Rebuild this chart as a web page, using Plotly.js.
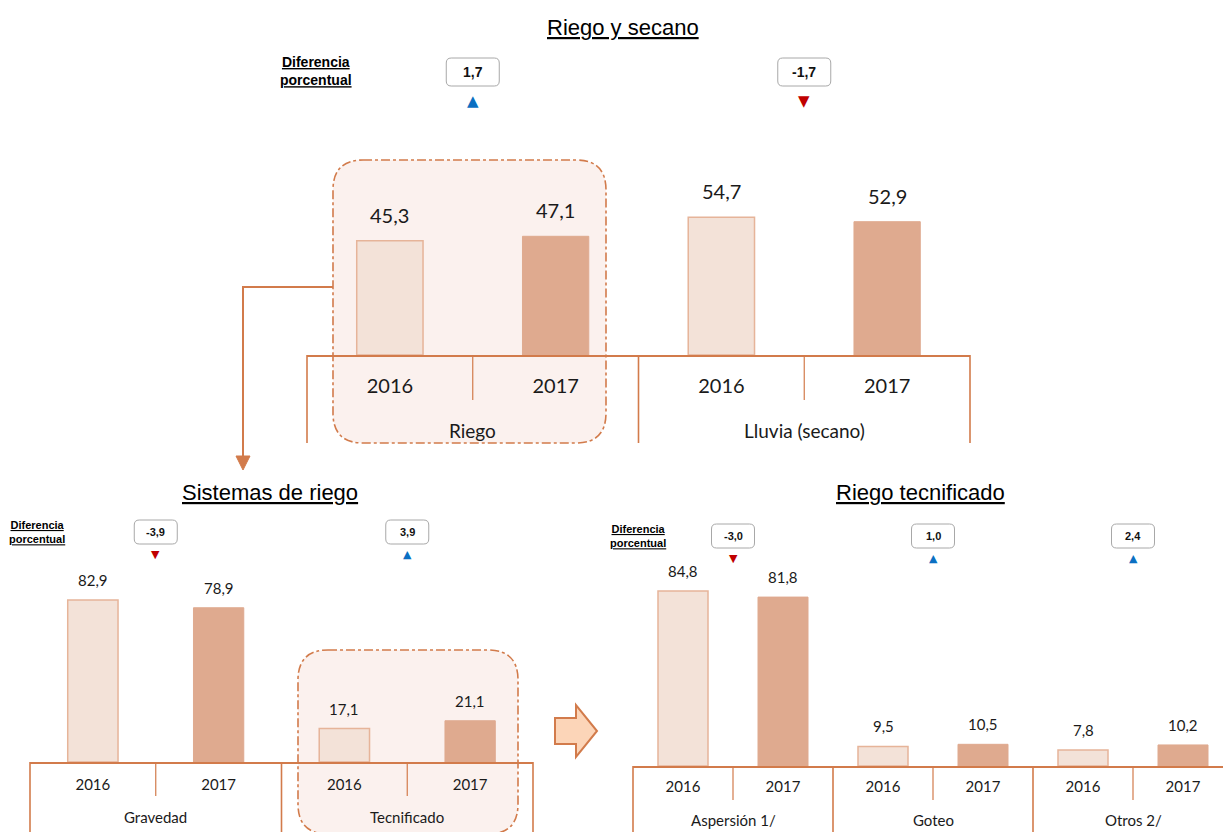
<!DOCTYPE html>
<html><head><meta charset="utf-8">
<script src="https://cdn.plot.ly/plotly-3.0.1.min.js"></script>
<style>html,body{margin:0;padding:0;background:#fff}</style>
</head><body><div id="chart" style="width:1223px;height:832px"></div>
<script>
// ---------- data ----------
const years = ['2016', '2017'];

const topTitle = 'Riego y secano';
const topCats = ['Riego', 'Lluvia (secano)'];
const top2016 = [45.3, 54.7];
const top2017 = [47.1, 52.9];
const topDiff = [1.7, -1.7];

const sisTitle = 'Sistemas de riego';
const sisCats = ['Gravedad', 'Tecnificado'];
const sis2016 = [82.9, 17.1];
const sis2017 = [78.9, 21.1];
const sisDiff = [-3.9, 3.9];

const tecTitle = 'Riego tecnificado';
const tecCats = ['Aspersión 1/', 'Goteo', 'Otros 2/'];
const tec2016 = [84.8, 9.5, 7.8];
const tec2017 = [81.8, 10.5, 10.2];
const tecDiff = [-3.0, 1.0, 2.4];

// ---------- layout helpers ----------
const W = 1223, H = 832;
const PX = p => p / W;
const PY = p => 1 - p / H;
const fmt = v => v.toFixed(1).replace('.', ',');

const C_LINE = '#D27B4B';
const C_2016 = '#F3E2D8';
const C_2016B = '#E6B499';
const C_2017 = '#DFAA8F';
const C_HL = '#FBF1EE';
const FONT_NUM = 'Lato, "Open Sans", sans-serif';
const FONT_AR = '"Liberation Sans", Arial, sans-serif';
const FONT_NAR = '"Liberation Sans Narrow", "Liberation Sans", Arial, sans-serif';

const charts = [
  {id: '', cats: topCats, v16: top2016, v17: top2017, diff: topDiff, title: topTitle,
   x0: 307, x1: 970, xr: [-0.5, 3.5], base: 355, top: 140, ppu: 2.52, bw: 0.4,
   yearSize: 20, yearStand: 12, catSize: 19, catY: 430, valSize: 20, valShift: 12,
   longTo: 443, shortTo: 400, titleX: 623, titleY: 27, titleSize: 22,
   diffX: 316, diffY: 71, diffSize: 14, boxW: 53, boxH: 28, boxY: 72, boxFont: 14, triY: 101, triSize: 15},
  {id: '2', cats: sisCats, v16: sis2016, v17: sis2017, diff: sisDiff, title: sisTitle,
   x0: 30, x1: 533, xr: [-0.5, 3.5], base: 762, top: 560, ppu: 1.955, bw: 0.4,
   yearSize: 15, yearStand: 8, catSize: 15, catY: 817, valSize: 15, valShift: 9,
   longTo: 832, shortTo: 796, titleX: 270, titleY: 492, titleSize: 22,
   diffX: 37, diffY: 532, diffSize: 11, boxW: 43, boxH: 24, boxY: 532, boxFont: 11, triY: 554, triSize: 11},
  {id: '3', cats: tecCats, v16: tec2016, v17: tec2017, diff: tecDiff, title: tecTitle,
   x0: 633, x1: 1223, xr: [-0.5, 5.4], base: 766, top: 560, ppu: 2.065, bw: 0.5,
   yearSize: 15, yearStand: 6, catSize: 15, catY: 820, valSize: 15, valShift: 9,
   longTo: 832, shortTo: 800, titleX: 920, titleY: 492, titleSize: 22,
   diffX: 638, diffY: 536, diffSize: 11, boxW: 43, boxH: 24, boxY: 536, boxFont: 11, triY: 558, triSize: 11}
];

function roundRect(x0, y0, x1, y1, r) {
  const X = PX, Y = PY;
  return `M${X(x0 + r)},${Y(y0)} L${X(x1 - r)},${Y(y0)} Q${X(x1)},${Y(y0)} ${X(x1)},${Y(y0 + r)} ` +
         `L${X(x1)},${Y(y1 - r)} Q${X(x1)},${Y(y1)} ${X(x1 - r)},${Y(y1)} L${X(x0 + r)},${Y(y1)} ` +
         `Q${X(x0)},${Y(y1)} ${X(x0)},${Y(y1 - r)} L${X(x0)},${Y(y0 + r)} Q${X(x0)},${Y(y0)} ${X(x0 + r)},${Y(y0)} Z`;
}

const traces = [];
const layout = {
  width: W, height: H, margin: {l: 0, r: 0, t: 0, b: 0},
  paper_bgcolor: '#fff', plot_bgcolor: 'rgba(0,0,0,0)',
  showlegend: false, bargap: 0, annotations: [], shapes: []
};

function note(x, y, text, font) {
  layout.annotations.push({xref: 'paper', yref: 'paper', x: x, y: y, text: text,
    showarrow: false, xanchor: 'center', yanchor: 'middle', font: font});
}

// highlight boxes (below everything)
layout.shapes.push({type: 'path', xref: 'paper', yref: 'paper', layer: 'below',
  path: roundRect(333, 160, 606, 443, 30), fillcolor: C_HL,
  line: {color: C_LINE, width: 1.6, dash: 'dashdot'}});
layout.shapes.push({type: 'path', xref: 'paper', yref: 'paper', layer: 'below',
  path: roundRect(298, 650, 518, 834, 30), fillcolor: C_HL,
  line: {color: C_LINE, width: 1.6, dash: 'dashdot'}});

charts.forEach(c => {
  const xa = 'x' + c.id, ya = 'y' + c.id;
  const n = c.cats.length;
  const pos16 = c.cats.map((_, g) => 2 * g);
  const pos17 = c.cats.map((_, g) => 2 * g + 1);
  const dx = [c.x0 / W, c.x1 / W];
  const toPaperX = v => dx[0] + (v - c.xr[0]) / (c.xr[1] - c.xr[0]) * (dx[1] - dx[0]);

  traces.push({type: 'bar', x: pos16, y: c.v16, width: c.bw, xaxis: xa, yaxis: ya,
    marker: {color: C_2016, line: {color: C_2016B, width: 1.5}}, hoverinfo: 'skip'});
  traces.push({type: 'bar', x: pos17, y: c.v17, width: c.bw, xaxis: xa, yaxis: ya,
    marker: {color: C_2017, line: {color: C_2017, width: 1}}, hoverinfo: 'skip'});

  const ticks = [];
  c.cats.forEach((_, g) => { ticks.push(2 * g, 2 * g + 1); });
  layout['xaxis' + c.id] = {
    domain: dx, range: c.xr, anchor: ya, showgrid: false, zeroline: false,
    showline: true, linecolor: C_LINE, linewidth: 1.6,
    tickvals: ticks, ticktext: ticks.map(t => years[t % 2]), ticks: '',
    ticklabelstandoff: c.yearStand,
    tickfont: {family: FONT_NUM, size: c.yearSize, color: '#1a1a1a'}, fixedrange: true
  };
  layout['yaxis' + c.id] = {
    domain: [PY(c.base), PY(c.top)], range: [0, (c.base - c.top) / c.ppu],
    anchor: xa, visible: false, fixedrange: true
  };

  // value labels
  [[pos16, c.v16], [pos17, c.v17]].forEach(([p, v]) => {
    p.forEach((xv, i) => layout.annotations.push({
      xref: xa, yref: ya, x: xv, y: v[i], text: fmt(v[i]), showarrow: false,
      xanchor: 'center', yanchor: 'bottom', yshift: c.valShift,
      font: {family: FONT_NUM, size: c.valSize, color: '#1a1a1a'}}));
  });

  // dividers
  for (let k = 0; k <= n; k++) {
    const xl = toPaperX(-0.5 + 2 * k);
    if (xl <= 1.0001) layout.shapes.push({type: 'line', xref: 'paper', yref: 'paper',
      x0: xl, x1: xl, y0: PY(c.base), y1: PY(c.longTo), line: {color: C_LINE, width: 1.6}});
    if (k < n) {
      const xs = toPaperX(0.5 + 2 * k);
      layout.shapes.push({type: 'line', xref: 'paper', yref: 'paper',
        x0: xs, x1: xs, y0: PY(c.base), y1: PY(c.shortTo), line: {color: C_LINE, width: 1.2}});
    }
  }

  // category labels, diff boxes, triangles
  c.cats.forEach((cat, g) => {
    const xc = toPaperX(2 * g + 0.5);
    note(xc, PY(c.catY), cat, {family: FONT_NUM, size: c.catSize, color: '#1a1a1a'});
    const cxp = xc * W;
    layout.shapes.push({type: 'path', xref: 'paper', yref: 'paper',
      path: roundRect(cxp - c.boxW / 2, c.boxY - c.boxH / 2, cxp + c.boxW / 2, c.boxY + c.boxH / 2, 5),
      fillcolor: '#fff', line: {color: '#A8A8A8', width: 1}});
    note(xc, PY(c.boxY), '<b>' + fmt(c.diff[g]) + '</b>', {family: FONT_NAR, size: c.boxFont, color: '#111'});
    const up = c.diff[g] > 0;
    note(xc, PY(c.triY), up ? '▲' : '▼',
      {family: 'DejaVu Sans', size: c.triSize, color: up ? '#0A6FC2' : '#C00000'});
  });

  // titles
  note(PX(c.titleX), PY(c.titleY), '<u>' + c.title + '</u>', {family: FONT_AR, size: c.titleSize, color: '#000'});
  note(PX(c.diffX), PY(c.diffY), '<b><u>Diferencia</u></b><br><b><u>porcentual</u></b>',
    {family: FONT_NAR, size: c.diffSize, color: '#000'});
});

// connector from Riego box down to "Sistemas de riego"
layout.shapes.push({type: 'path', xref: 'paper', yref: 'paper',
  path: `M${PX(333)},${PY(287)} L${PX(243)},${PY(287)} L${PX(243)},${PY(458)}`,
  line: {color: C_LINE, width: 2}});
layout.shapes.push({type: 'path', xref: 'paper', yref: 'paper',
  path: `M${PX(236)},${PY(456)} L${PX(250)},${PY(456)} L${PX(243)},${PY(470)} Z`,
  fillcolor: C_LINE, line: {color: C_LINE, width: 1}});
// block arrow toward "Riego tecnificado"
layout.shapes.push({type: 'path', xref: 'paper', yref: 'paper',
  path: `M${PX(555)},${PY(718)} L${PX(576)},${PY(718)} L${PX(576)},${PY(705)} L${PX(597)},${PY(731)} ` +
        `L${PX(576)},${PY(757)} L${PX(576)},${PY(744)} L${PX(555)},${PY(744)} Z`,
  fillcolor: '#FCD5B8', line: {color: C_LINE, width: 2}});

Plotly.newPlot('chart', traces, layout, {staticPlot: true, displayModeBar: false});
</script></body></html>
